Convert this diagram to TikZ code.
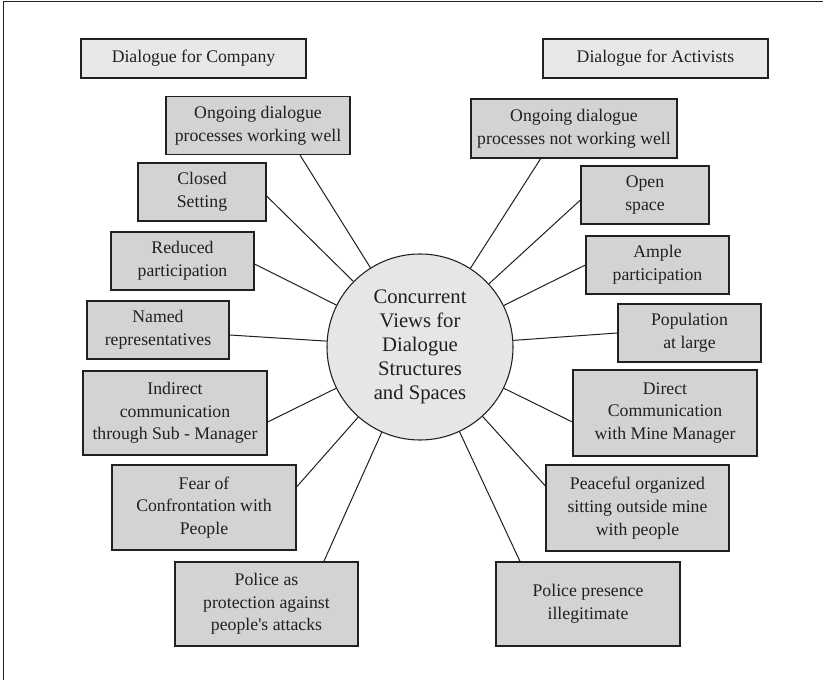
\documentclass[tikz,border=0pt]{standalone}
\usepackage{fontspec}
\setmainfont{Liberation Serif}
\definecolor{boxink}{HTML}{231F20}
\definecolor{itemfill}{HTML}{D3D3D5}
\definecolor{headfill}{HTML}{E8E8EA}
\definecolor{hubfill}{HTML}{E6E6E7}

\begin{document}
\begin{tikzpicture}[
  x=0.75pt,
  y=-0.75pt,
  every node/.style={font=\fontsize{13.3}{17}\selectfont, text=boxink},
  header/.style={draw=boxink, line width=0.9pt, fill=headfill, inner sep=0pt,
                 minimum width=168.75pt, minimum height=29.25pt},
  item/.style={draw=boxink, line width=0.9pt, fill=itemfill, align=center,
               inner sep=0pt},
  hub/.style={circle, draw=boxink, line width=0.8pt, fill=hubfill, align=center,
              inner sep=0pt, minimum size=139.5pt,
              font=\fontsize{15.5}{18}\selectfont},
  spoke/.style={boxink, line width=0.75pt},
  frame/.style={boxink, line width=1.2pt}
]
  \useasboundingbox (0,0) rectangle (823,680);

  % ---- outer frame (top and left only) ----
  \draw[frame] (823,1.5) -- (3.5,1.5) -- (3.5,680);

  % ---- central view ----
  \node[hub] (hub) at (420,347)
    {Concurrent\\Views for\\Dialogue\\Structures\\and Spaces};

  % ---- column headings ----
  \node[header] (company) at (193.5,58.5) {Dialogue for Company};
  \node[header] (activists) at (655.5,58.5) {Dialogue for Activists};

  % ---- company side ----
  \node[item, minimum width=138pt, minimum height=43.5pt] (owell) at (258,125.5)
    {Ongoing dialogue\\processes working well};
  \node[item, minimum width=96pt, minimum height=43.5pt] (closed) at (202,192)
    {Closed\\Setting};
  \node[item, minimum width=107.25pt, minimum height=43.5pt] (reduced) at (182.5,261)
    {Reduced\\participation};
  \node[item, minimum width=106.5pt, minimum height=43.5pt] (named) at (158,330)
    {Named\\representatives};
  \node[item, minimum width=138pt, minimum height=63pt] (indirect) at (175,413)
    {Indirect\\communication\\through Sub - Manager};
  \node[item, minimum width=138pt, minimum height=63.75pt] (fear) at (204,507.5)
    {Fear of\\Confrontation with\\People};
  \node[item, minimum width=137.25pt, minimum height=63pt] (polprot) at (266.5,604)
    {Police as\\protection against\\people\textquotesingle s attacks};

  % ---- activist side ----
  \node[item, minimum width=154.5pt, minimum height=44.25pt] (onot) at (574,128.5)
    {Ongoing dialogue\\processes not working well};
  \node[item, minimum width=96pt, minimum height=43.5pt] (open) at (645,195)
    {Open\\space};
  \node[item, minimum width=107.25pt, minimum height=43.5pt] (ample) at (657.5,265)
    {Ample\\participation};
  \node[item, minimum width=107.25pt, minimum height=43.5pt] (popul) at (689.5,333)
    {Population\\at large};
  \node[item, minimum width=138pt, minimum height=64.5pt] (direct) at (665,413)
    {Direct\\Communication\\with Mine Manager};
  \node[item, minimum width=137.25pt, minimum height=64.5pt] (peace) at (637.5,508)
    {Peaceful organized\\sitting outside mine\\with people};
  \node[item, minimum width=138pt, minimum height=63pt] (polpres) at (588,604)
    {Police presence\\illegitimate};

  % ---- spokes to the hub ----
  \draw[spoke] ([xshift=31.5pt]owell.south) -- (hub);
  \draw[spoke] ([yshift=-3pt]closed.east) -- (hub);
  \draw[spoke] ([yshift=-2.25pt]reduced.east) -- (hub);
  \draw[spoke] ([yshift=-3.75pt]named.east) -- (hub);
  \draw[spoke] ([yshift=-6.75pt]indirect.east) -- (hub);
  \draw[spoke] ([yshift=15.4pt]fear.east) -- (hub);
  \draw[spoke] ([xshift=43pt]polprot.north) -- (hub);

  \draw[spoke] ([xshift=-25pt]onot.south) -- (hub);
  \draw[spoke] ([yshift=-3.75pt]open.west) -- (hub);
  \draw[spoke] (ample.west) -- (hub);
  \draw[spoke] (popul.west) -- (hub);
  \draw[spoke] ([yshift=-6.75pt]direct.west) -- (hub);
  \draw[spoke] ([yshift=16.5pt]peace.west) -- (hub);
  \draw[spoke] ([xshift=-51pt]polpres.north) -- (hub);
\end{tikzpicture}
\end{document}
